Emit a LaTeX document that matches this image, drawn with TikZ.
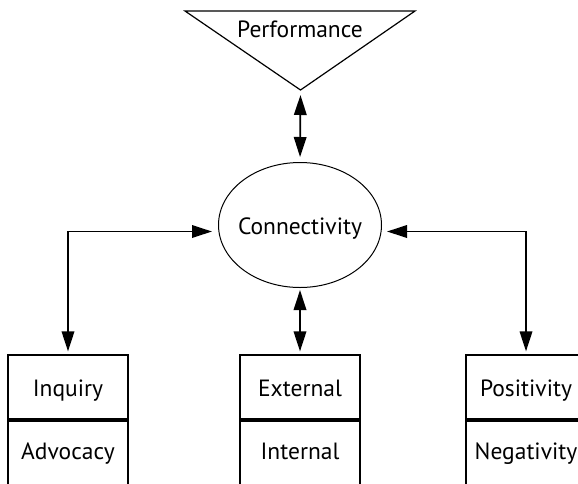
\documentclass[tikz,border=0pt]{standalone}
\usepackage{fontspec}
\setmainfont{PT Sans}
\usetikzlibrary{arrows.meta,shapes.geometric,calc}
\begin{document}
\begin{tikzpicture}[x=1pt,y=-1pt,
  every node/.style={font=\fontsize{23.5}{26}\selectfont},
  label text/.style={text height=22pt,text depth=3pt,inner ysep=0pt},
  half/.style={draw,line width=1.2pt,minimum width=120pt,inner xsep=0pt,inner ysep=0pt},
  upper/.style={half,text height=22pt,text depth=3pt,minimum height=64pt},
  lower/.style={half,text height=16pt,text depth=5pt,minimum height=70pt},
  divider/.style={line width=4pt},
  link/.style={line width=1.8pt,{Triangle[length=20pt,width=12.5pt]}-{Triangle[length=20pt,width=12.5pt]}}]
  \useasboundingbox (0,0) rectangle (578,483);
  \clip (0,0) rectangle (578,483);

  % goal at the top
  \coordinate (tl) at (185,11);
  \coordinate (tr) at (415,11);
  \coordinate (apex) at (300.5,90);
  \draw[line width=1.2pt,line join=miter] (tl) -- (tr) -- (apex) -- cycle;
  \node[anchor=base] (perf) at (300,37.7) {Performance};

  % central construct
  \node[draw,ellipse,label text,line width=1pt,minimum width=163pt,minimum height=125pt,inner xsep=-12pt]
    (conn) at (300,225) {Connectivity};

  % the three paired dimensions
  \node[upper] (inq) at (68,387) {Inquiry};
  \node[lower] (adv) at (68,454) {Advocacy};
  \node[upper] (ext) at (300,387) {External};
  \node[lower] (int) at (300,454) {Internal};
  \node[upper] (pos) at (526,387) {Positivity};
  \node[lower] (neg) at (526,454) {Negativity};
  \foreach \n in {inq,ext,pos}
    \draw[divider] (\n.south west) -- (\n.south east);

  % links
  \coordinate (cw) at ([yshift=-6.5pt]conn.west);
  \coordinate (ce) at ([yshift=-6.5pt]conn.east);
  \draw[link,shorten <=5pt,shorten >=5pt] (apex) -- (conn.north);
  \draw[link,shorten <=2pt,shorten >=3pt] (conn.south) -- (ext.north);
  \draw[link,shorten <=3pt,shorten >=6pt] (inq.north) |- (cw);
  \draw[link,shorten <=3pt,shorten >=5pt] (pos.north) |- (ce);
\end{tikzpicture}
\end{document}
